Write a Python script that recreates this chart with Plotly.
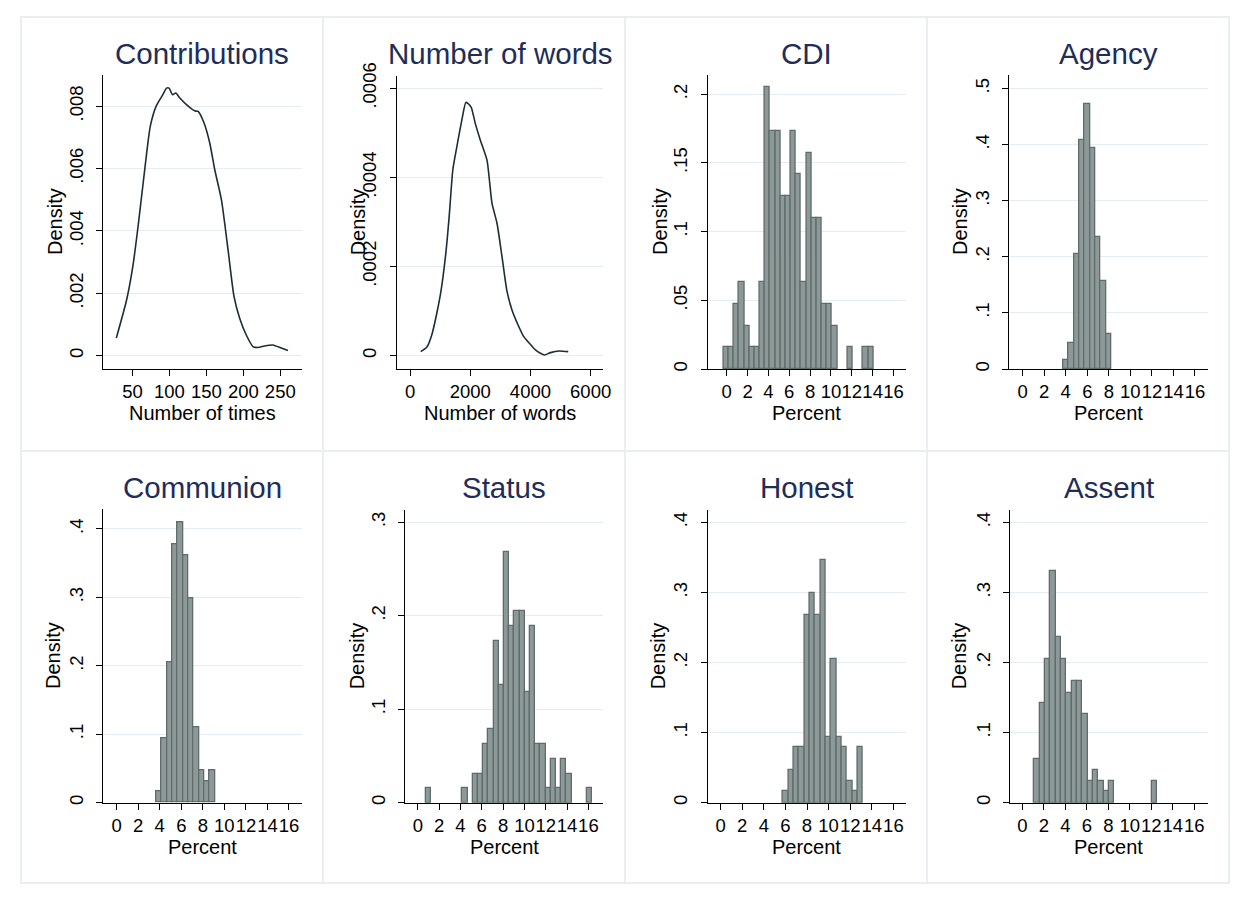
import plotly.graph_objects as go

# ---------------- data ----------------
contrib_x = [28, 42, 51, 58, 67, 74, 82, 91, 96, 99.5, 104, 108.6, 114, 123, 134, 138.7,
             146.8, 154.5, 161.3, 170.3, 179.3, 187.4, 195, 204, 213, 219.8, 228.8, 240, 251.4, 260.4]
contrib_y = [0.00056, 0.00179, 0.00296, 0.00425, 0.00607, 0.00735, 0.0080, 0.00837, 0.00858, 0.00858,
             0.00837, 0.00842, 0.00826, 0.00805, 0.00785, 0.00783, 0.00746, 0.00682, 0.00596, 0.0050,
             0.00339, 0.00189, 0.0012, 0.00066, 0.00029, 0.00026, 0.00031, 0.00034, 0.00024, 0.00016]

words_x = [356, 556, 722, 889, 1033, 1189, 1300, 1422, 1556, 1700, 1855, 1922, 2033, 2167, 2333,
           2555, 2722, 2889, 3055, 3222, 3389, 3589, 3778, 3966, 4166, 4333, 4466, 4666, 4944, 5255]
words_y = [0.000009, 0.0000187, 0.0000464, 0.000095, 0.000147, 0.00023, 0.000312, 0.000417, 0.000469,
           0.000521, 0.000568, 0.000566, 0.000557, 0.000521, 0.000484, 0.000439, 0.000342, 0.000297,
           0.000222, 0.000144, 0.000102, 0.0000688, 0.0000426, 0.0000277, 0.0000127, 0.0000052,
           0.0000015, 0.0000067, 0.0000105, 0.000009]

cdi_start, cdi_width = -0.29, 0.4955
cdi_density = [0.016, 0.016, 0.047, 0.063, 0.031, 0.016, 0.016, 0.063, 0.205, 0.173, 0.173, 0.126,
               0.126, 0.173, 0.142, 0.063, 0.157, 0.110, 0.110, 0.047, 0.047, 0.031, 0, 0, 0.016,
               0, 0, 0.016, 0.016]

agency_start, agency_width = 3.78, 0.495
agency_density = [0.016, 0.047, 0.205, 0.409, 0.472, 0.394, 0.236, 0.157, 0.063]

communion_start, communion_width = 3.68, 0.495
communion_density = [0.016, 0.094, 0.205, 0.378, 0.409, 0.362, 0.299, 0.110, 0.047, 0.031, 0.047]

status_start, status_width = 0.76, 0.488
status_density = [0.016, 0, 0, 0, 0, 0, 0, 0.016, 0, 0.031, 0.031, 0.063, 0.079, 0.173, 0.126,
                  0.268, 0.189, 0.205, 0.205, 0.118, 0.189, 0.063, 0.063, 0.016, 0.047, 0.016,
                  0.047, 0.031, 0, 0, 0, 0.016]

honest_start, honest_width = 5.77, 0.494
honest_density = [0.016, 0.047, 0.079, 0.079, 0.268, 0.299, 0.268, 0.346, 0.094, 0.205, 0.094,
                  0.079, 0.031, 0.016, 0.079]

assent_start, assent_width = 1.12, 0.496
assent_density = [0.063, 0.142, 0.205, 0.331, 0.236, 0.205, 0.157, 0.173, 0.173, 0.126, 0.031,
                  0.047, 0.031, 0.016, 0.031, 0, 0, 0, 0, 0, 0, 0, 0.031]

titles = ["Contributions", "Number of words", "CDI", "Agency",
          "Communion", "Status", "Honest", "Assent"]
xtitles = ["Number of times", "Number of words", "Percent", "Percent",
           "Percent", "Percent", "Percent", "Percent"]

pct_ticks = [0, 2, 4, 6, 8, 10, 12, 14, 16]
contrib_xticks = [50, 100, 150, 200, 250]
words_xticks = [0, 2000, 4000, 6000]
yticks = [
    ([0, 0.002, 0.004, 0.006, 0.008], ["0", ".002", ".004", ".006", ".008"]),
    ([0, 0.0002, 0.0004, 0.0006], ["0", ".0002", ".0004", ".0006"]),
    ([0, 0.05, 0.1, 0.15, 0.2], ["0", ".05", ".1", ".15", ".2"]),
    ([0, 0.1, 0.2, 0.3, 0.4, 0.5], ["0", ".1", ".2", ".3", ".4", ".5"]),
    ([0, 0.1, 0.2, 0.3, 0.4], ["0", ".1", ".2", ".3", ".4"]),
    ([0, 0.1, 0.2, 0.3], ["0", ".1", ".2", ".3"]),
    ([0, 0.1, 0.2, 0.3, 0.4], ["0", ".1", ".2", ".3", ".4"]),
    ([0, 0.1, 0.2, 0.3, 0.4], ["0", ".1", ".2", ".3", ".4"]),
]

# ---------------- layout geometry (page pixels) ----------------
W, H = 1247, 902
PAGE_OFFSET = 8  # default body margin of the written html page
boxes = [  # x0, x1, ytop, ybottom of plot regions
    (103, 301.7, 75, 369), (396.7, 603.3, 75.7, 369), (707.7, 906, 75, 369), (1009.3, 1207.7, 75, 369),
    (103.3, 301.7, 509.3, 802.7), (405, 603.3, 510, 802.7), (707.7, 906, 510, 802.7), (1010, 1207.7, 510, 802.7),
]
xranges = [(10, 279), (-443, 6420), (-1.82, 17.2), (-1.24, 17.18),
           (-1.24, 17.18), (-1.2, 17.4), (-1.2, 17.17), (-1.15, 17.25)]
yranges = [(-0.00043, 0.009), (-0.00003, 0.000628), (0, 0.214), (0, 0.524),
           (0, 0.4287), (0, 0.313), (0, 0.4176), (0, 0.4176)]
title_y = [53, 53, 53, 53, 487.5, 487.5, 487.5, 487.5]
xtitle_y = [413, 413, 413, 413, 847, 847, 847, 847]
density_x = [55, 358, 660, 960, 53, 357, 658, 959]

def px(x):
    return (x - PAGE_OFFSET) / W

def py(y):
    return 1 - (y - PAGE_OFFSET) / H

FONT = "Arial, Liberation Sans, sans-serif"
BAR_FILL = "rgb(140,153,152)"
BAR_LINE = "rgb(96,108,107)"
CURVE = "#1c2d36"
GRID = "#e4edf2"
TITLE_COL = "#1e2d59"
BORDER = "#e8eef2"

fig = go.Figure()

hist_data = [
    (cdi_start, cdi_width, cdi_density),
    (agency_start, agency_width, agency_density),
    (communion_start, communion_width, communion_density),
    (status_start, status_width, status_density),
    (honest_start, honest_width, honest_density),
    (assent_start, assent_width, assent_density),
]

# density curves
fig.add_trace(go.Scatter(x=contrib_x, y=contrib_y, mode="lines", xaxis="x", yaxis="y",
                         line=dict(color=CURVE, width=1.6, shape="spline", smoothing=0.6),
                         showlegend=False, hoverinfo="skip"))
fig.add_trace(go.Scatter(x=words_x, y=words_y, mode="lines", xaxis="x2", yaxis="y2",
                         line=dict(color=CURVE, width=1.6, shape="spline", smoothing=0.6),
                         showlegend=False, hoverinfo="skip"))

# histograms
for k, (start, w, dens) in enumerate(hist_data):
    idx = k + 3
    lefts = [start + i * w for i in range(len(dens))]
    heights = [d if d > 0 else None for d in dens]
    fig.add_trace(go.Bar(x=lefts, y=heights, width=w, offset=0,
                         xaxis=f"x{idx}", yaxis=f"y{idx}",
                         marker=dict(color=BAR_FILL, line=dict(color=BAR_LINE, width=1.3)),
                         showlegend=False, hoverinfo="skip"))

layout = dict(width=W, height=H, margin=dict(l=0, r=0, t=0, b=0, pad=0, autoexpand=False),
              paper_bgcolor="white", plot_bgcolor="white",
              font=dict(family=FONT, color="black"), bargap=0)

annotations = []
shapes = []
for i in range(8):
    x0, x1, yt, yb = boxes[i]
    sfx = "" if i == 0 else str(i + 1)
    if i == 0:
        xt = contrib_xticks
    elif i == 1:
        xt = words_xticks
    else:
        xt = pct_ticks
    layout["xaxis" + sfx] = dict(
        domain=[px(x0), px(x1)], anchor="y" + sfx, range=list(xranges[i]),
        tickvals=xt, ticktext=[str(v) for v in xt], tickangle=0, automargin=False,
        showline=True, linecolor="black", linewidth=1, mirror=False,
        ticks="outside", ticklen=6, tickcolor="black", tickwidth=1,
        showgrid=False, zeroline=False, tickfont=dict(size=18.5, family=FONT, color="black"),
        fixedrange=True)
    tv, tt = yticks[i]
    layout["yaxis" + sfx] = dict(
        domain=[py(yb), py(yt)], anchor="x" + sfx, range=list(yranges[i]),
        tickvals=tv, ticktext=tt, tickangle=-90, automargin=False,
        showline=True, linecolor="black", linewidth=1,
        ticks="outside", ticklen=6, tickcolor="black", tickwidth=1,
        showgrid=True, gridcolor=GRID, gridwidth=1.2, zeroline=False,
        tickfont=dict(size=18.5, family=FONT, color="black"), ticklabelstandoff=6,
        fixedrange=True)
    cx = (x0 + x1) / 2
    annotations.append(dict(text=titles[i], x=px(cx), y=py(title_y[i]), xref="paper", yref="paper",
                            showarrow=False, xanchor="center", yanchor="middle",
                            font=dict(size=29.5, family=FONT, color=TITLE_COL)))
    annotations.append(dict(text=xtitles[i], x=px(cx), y=py(xtitle_y[i]), xref="paper", yref="paper",
                            showarrow=False, xanchor="center", yanchor="middle",
                            font=dict(size=20, family=FONT, color="black")))
    annotations.append(dict(text="Density", x=px(density_x[i]), y=py((yt + yb) / 2),
                            xref="paper", yref="paper", textangle=-90,
                            showarrow=False, xanchor="center", yanchor="middle",
                            font=dict(size=20, family=FONT, color="black")))

# panel borders
col_edges = [21, 323, 625, 927, 1229]
shapes.append(dict(type="rect", xref="paper", yref="paper", x0=px(21), x1=px(1229),
                   y0=py(883), y1=py(17), line=dict(color=BORDER, width=2), layer="below"))
for cxe in col_edges[1:-1]:
    shapes.append(dict(type="line", xref="paper", yref="paper", x0=px(cxe), x1=px(cxe),
                       y0=py(883), y1=py(17), line=dict(color=BORDER, width=2), layer="below"))
shapes.append(dict(type="line", xref="paper", yref="paper", x0=px(21), x1=px(1229),
                   y0=py(451), y1=py(451), line=dict(color=BORDER, width=2), layer="below"))

layout["annotations"] = annotations
layout["shapes"] = shapes
fig.update_layout(**layout)

fig.write_html("out.html")
